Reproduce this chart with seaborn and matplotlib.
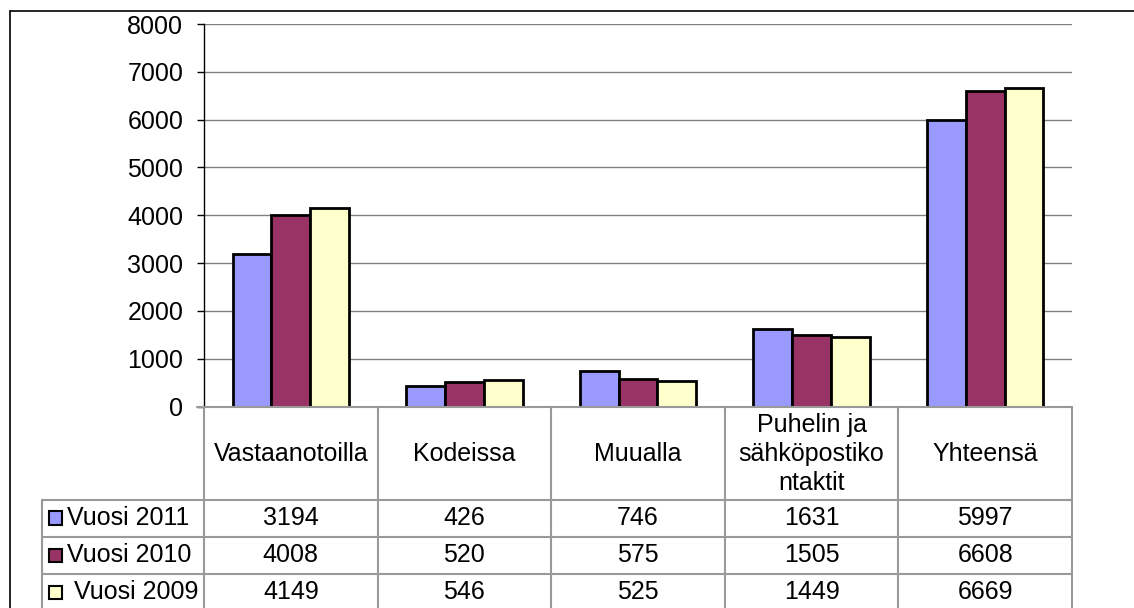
import pandas as pd
import matplotlib
matplotlib.use("Agg")
import matplotlib.pyplot as plt
import matplotlib.transforms as mtransforms
from matplotlib.lines import Line2D
from matplotlib.patches import Rectangle
import seaborn as sns

# Data
categories = ["Vastaanotoilla", "Kodeissa", "Muualla",
              "Puhelin ja\nsähköpostiko\nntaktit", "Yhteensä"]
years = ["Vuosi 2011", "Vuosi 2010", "Vuosi 2009"]
year_labels = ["Vuosi 2011", "Vuosi 2010", " Vuosi 2009"]
vals_2011 = [3194, 426, 746, 1631, 5997]
vals_2010 = [4008, 520, 575, 1505, 6608]
vals_2009 = [4149, 546, 525, 1449, 6669]
colors = ["#9999FF", "#993366", "#FFFFCC"]

series = {"Vuosi 2011": vals_2011, "Vuosi 2010": vals_2010, "Vuosi 2009": vals_2009}
rows = []
for year, vals in series.items():
    for i, v in enumerate(vals):
        rows.append({"cat": i, "year": year, "value": v})
df = pd.DataFrame(rows)

sns.set_style("white")
plt.rcParams["font.family"] = ["Liberation Sans", "DejaVu Sans"]
plt.rcParams["text.color"] = "black"

FS = 18
W, H = 1134, 608
fig = plt.figure(figsize=(W / 100, H / 100), dpi=100)


def fx(x):
    return x / W


def fy(y):
    return 1 - y / H


ax = fig.add_axes([fx(204), fy(406.5), fx(1072) - fx(204), fy(24) - fy(406.5)])

sns.barplot(data=df, x="cat", y="value", hue="year", hue_order=years,
            palette=colors, saturation=1, width=0.67, edgecolor="black",
            linewidth=2.0, legend=False, ax=ax)

ax.set_xlim(-0.5, len(categories) - 0.5)
ax.set_ylim(0, 8000)
ax.set_yticks(range(0, 8001, 1000))
ax.set_xticks([])
ax.set_xlabel("")
ax.set_ylabel("")
ax.yaxis.grid(True, color="#808080", linewidth=1.0)
ax.set_axisbelow(True)
for side in ["top", "right", "bottom"]:
    ax.spines[side].set_visible(False)
ax.spines["left"].set_color("black")
ax.spines["left"].set_linewidth(1.0)
ax.tick_params(axis="y", length=5, width=1, pad=10, color="black",
               labelsize=FS, labelcolor="black", left=True)

# Data table under the chart
trans = mtransforms.blended_transform_factory(ax.transData, fig.transFigure)
grid_kw = dict(color="#999999", linewidth=1.5)
row_y = [499.5, 536.5, 573.5]
row_h = 37

# top line (axis at 0)
fig.add_artist(Line2D([fx(197), fx(1072)], [fy(406.5), fy(406.5)], **grid_kw))
for y in row_y:
    fig.add_artist(Line2D([fx(41.5), fx(1072)], [fy(y), fy(y)], **grid_kw))
for i in range(len(categories) + 1):
    xd = i - 0.5
    fig.add_artist(Line2D([xd, xd], [fy(406.5), fy(610)], transform=trans, **grid_kw))
fig.add_artist(Line2D([fx(41.5), fx(41.5)], [fy(499.5), fy(610)], **grid_kw))

for i, cat in enumerate(categories):
    fig.text(i, fy(454), cat, transform=trans, ha="center", va="center",
             fontsize=FS, linespacing=1.25)

for r, (year, label) in enumerate(zip(years, year_labels)):
    yc = row_y[r] + row_h / 2
    fig.add_artist(Rectangle((fx(48.5), fy(yc + 6.5)), fx(13), fy(0) - fy(13),
                             facecolor=colors[r], edgecolor="black", linewidth=1.5))
    fig.text(fx(67), fy(yc), label, ha="left", va="center", fontsize=FS)
    for i, v in enumerate(series[year]):
        fig.text(i, fy(yc), str(v), transform=trans, ha="center", va="center",
                 fontsize=FS)

# outer chart frame (cropped on right and bottom)
fig.add_artist(Line2D([fx(9.5), fx(1134)], [fy(10.5), fy(10.5)], color="black", linewidth=1.2))
fig.add_artist(Line2D([fx(9.5), fx(9.5)], [fy(10.5), fy(608)], color="black", linewidth=1.2))

fig.savefig("out.png", dpi=100)
plt.close(fig)
